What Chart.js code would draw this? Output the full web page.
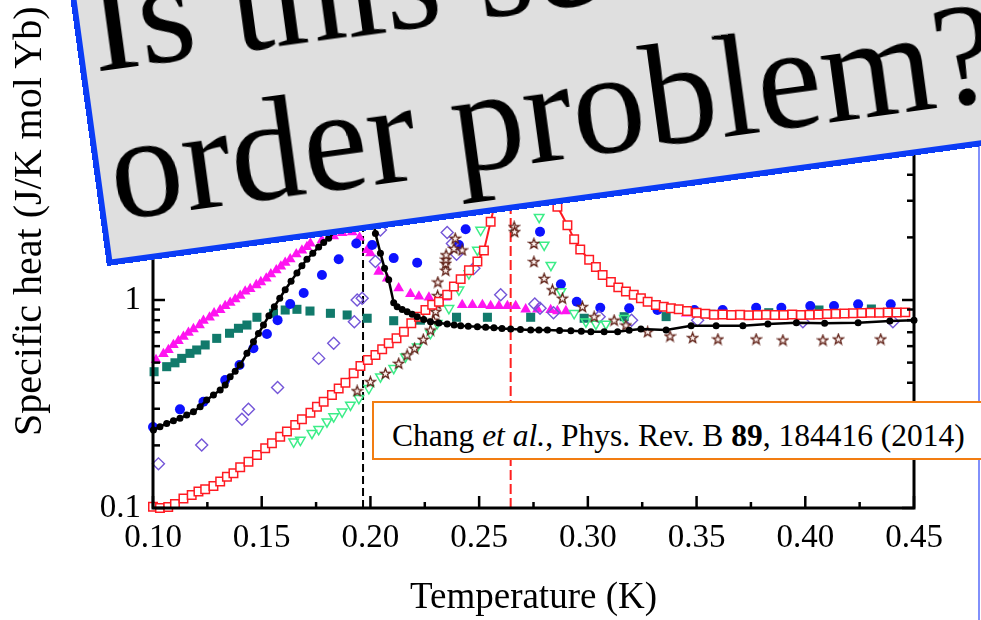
<!DOCTYPE html>
<html>
<head>
<meta charset="utf-8">
<title>Specific heat versus temperature</title>
<script src="https://cdn.jsdelivr.net/npm/chart.js@4.4.1/dist/chart.umd.min.js"></script>
<style>
  html, body { margin: 0; padding: 0; }
  body { width: 981px; height: 620px; overflow: hidden; background: #fff; position: relative;
         font-family: 'Liberation Serif', 'Times New Roman', serif; }
  #c { position: absolute; left: 0; top: 0; }
  #ytitle { position: absolute; left: 8px; top: 436px; transform-origin: 0 0; transform: rotate(-90deg);
            font-size: 40px; line-height: 40px; white-space: nowrap; color: #000; }
  #edge { position: absolute; left: 978px; top: 0; width: 2px; height: 620px; background: #8190fb; }
  #cite { position: absolute; left: 372px; top: 401px; width: 620px; height: 59px; box-sizing: border-box;
          border: 2px solid #f27d12; background: #fff; padding: 17px 0 0 18px;
          font-size: 31.5px; line-height: 31px; white-space: nowrap; color: #000; }
  #banner { position: absolute; left: 107px; top: -134px; width: 1100px; height: 400px; box-sizing: border-box;
            border: 6px solid #0b3cf6; background: #dfdfdf; transform-origin: 0 100%; transform: rotate(-7.8deg); }
  #banner .txt { position: absolute; left: 9px; bottom: 12px; font-size: 146px; line-height: 150px;
                 white-space: nowrap; color: #000; }
</style>
</head>
<body>
<canvas id="c" width="981" height="620"></canvas>
<div id="ytitle">Specific heat (J/K mol Yb)</div>
<div id="edge"></div>
<div id="cite">Chang <i>et al.</i>, Phys. Rev. B <b>89</b>, 184416 (2014)</div>
<div id="banner"><div class="txt">Is this second<br>order problem?</div></div>

<script>
// ---- axis ticks ----
const xTickValues = [0.10, 0.15, 0.20, 0.25, 0.30, 0.35, 0.40, 0.45];
const xTickLabels = ['0.10', '0.15', '0.20', '0.25', '0.30', '0.35', '0.40', '0.45'];
const xMinorTicks = [0.125, 0.175, 0.225, 0.275, 0.325, 0.375, 0.425];
const yTickValues = [0.1, 1, 10];
const yTickLabels = ['0.1', '1', '10'];
const yMinorTicks = [0.2, 0.3, 0.4, 0.5, 0.6, 0.7, 0.8, 0.9, 2, 3, 4, 5, 6, 7, 8, 9];

// ---- transition markers (K) ----
const tcBlack = 0.1966;
const tcRed = 0.2645;

// ---- black filled circles with line ----
const blackT = [0.1002,0.1032,0.1063,0.1094,0.1124,0.1155,0.1186,0.1217,0.1247,0.1278,0.1309,0.1332,0.1355,0.1378,0.1401,0.1432,0.1462,0.1485,0.1508,0.1533,0.1558,0.1583,0.1608,0.1635,0.1662,0.1685,0.1708,0.1735,0.1762,0.1785,0.1808,0.1840,0.1870,0.1900,0.1930,0.1955,0.1966,0.1980,0.2000,0.2023,0.2046,0.2065,0.2084,0.2107,0.2123,0.2146,0.2169,0.2192,0.2215,0.2245,0.2276,0.2315,0.2353,0.2385,0.2415,0.2450,0.2492,0.2530,0.2568,0.2605,0.2645,0.2690,0.2737,0.2775,0.2814,0.2870,0.2922,0.2970,0.3014,0.3075,0.3137,0.3190,0.3244,0.3360,0.3475,0.3590,0.3713,0.3828,0.3959,0.4089,0.4243,0.4389,0.4500];
const blackC = [0.237,0.246,0.255,0.263,0.270,0.280,0.290,0.307,0.331,0.349,0.369,0.390,0.428,0.455,0.487,0.554,0.630,0.690,0.758,0.840,0.929,1.02,1.12,1.23,1.35,1.46,1.57,1.68,1.80,1.89,1.98,2.15,2.35,2.65,3.2,4.0,4.6,3.9,2.9,2.09,1.68,1.42,1.25,0.97,0.929,0.900,0.879,0.855,0.831,0.805,0.787,0.775,0.767,0.758,0.752,0.748,0.744,0.740,0.736,0.730,0.726,0.722,0.717,0.717,0.717,0.714,0.712,0.708,0.704,0.704,0.704,0.715,0.726,0.717,0.752,0.752,0.752,0.767,0.778,0.773,0.778,0.792,0.800];

// ---- red open squares with line ----
const redT = [0.1000,0.1032,0.1070,0.1101,0.1140,0.1178,0.1209,0.1240,0.1278,0.1309,0.1340,0.1370,0.1401,0.1439,0.1478,0.1516,0.1547,0.1585,0.1616,0.1654,0.1685,0.1724,0.1754,0.1785,0.1823,0.1854,0.1885,0.1923,0.1954,0.1988,0.2023,0.2054,0.2084,0.2120,0.2154,0.2188,0.2223,0.2253,0.2284,0.2315,0.2353,0.2384,0.2415,0.2453,0.2492,0.2522,0.2553,0.2585,0.2615,0.2640,0.2660,0.2685,0.2715,0.2750,0.2790,0.2825,0.2860,0.2906,0.2937,0.2965,0.3006,0.3037,0.3068,0.3106,0.3140,0.3175,0.3211,0.3244,0.3275,0.3313,0.3349,0.3382,0.3418,0.3456,0.3500,0.3540,0.3580,0.3620,0.3660,0.3700,0.3740,0.3780,0.3820,0.3860,0.3900,0.3940,0.3980,0.4020,0.4060,0.4100,0.4140,0.4180,0.4220,0.4260,0.4300,0.4340,0.4380,0.4420,0.4460];
const redC = [0.1015,0.100,0.101,0.1045,0.111,0.1155,0.120,0.123,0.1276,0.134,0.1415,0.147,0.157,0.167,0.180,0.194,0.205,0.220,0.233,0.251,0.267,0.287,0.307,0.324,0.349,0.375,0.400,0.445,0.482,0.515,0.544,0.580,0.619,0.654,0.704,0.773,0.831,0.895,0.950,0.980,1.06,1.16,1.26,1.39,1.53,1.73,2.38,3.3,4.8,7.0,7.6,6.0,4.8,4.0,3.5,3.1,2.81,2.29,1.96,1.75,1.56,1.44,1.32,1.22,1.15,1.10,1.06,1.02,0.980,0.946,0.929,0.912,0.902,0.885,0.869,0.858,0.850,0.852,0.847,0.849,0.845,0.848,0.850,0.846,0.848,0.851,0.847,0.849,0.852,0.856,0.858,0.862,0.864,0.866,0.868,0.869,0.871,0.870,0.872];

// ---- brown open stars ----
const starT = [0.1939,0.2000,0.2069,0.2130,0.2169,0.2203,0.2243,0.2276,0.2290,0.2300,0.2307,0.2309,0.2310,0.2346,0.2346,0.2347,0.2348,0.2384,0.2390,0.2422,0.2450,0.2520,0.2580,0.2620,0.2661,0.2663,0.2752,0.2752,0.2799,0.2837,0.2883,0.2975,0.3029,0.3121,0.3175,0.3275,0.3378,0.3482,0.3598,0.3774,0.3897,0.4081,0.4152,0.4347];
const starC = [0.366,0.405,0.444,0.496,0.544,0.586,0.647,0.717,0.80,0.88,0.96,1.05,1.22,1.39,1.50,1.57,1.65,1.77,1.98,1.74,2.9,3.3,3.6,3.0,2.25,2.13,1.87,1.53,1.27,1.12,1.02,0.929,0.831,0.80,0.758,0.704,0.671,0.659,0.649,0.649,0.642,0.642,0.649,0.649];

// ---- green open down-triangles ----
const greenT = [0.1647,0.1678,0.1731,0.1762,0.1800,0.1831,0.1870,0.1908,0.1947,0.1993,0.2046,0.2107,0.2161,0.2215,0.2276,0.2307,0.2361,0.2407,0.2453,0.2492,0.2507,0.2560,0.2620,0.2680,0.2730,0.2776,0.2799,0.2830,0.2876,0.2937,0.2991,0.3037,0.3083,0.3168];
const greenC = [0.208,0.212,0.229,0.239,0.260,0.275,0.290,0.313,0.337,0.376,0.428,0.470,0.534,0.596,0.692,0.773,0.912,1.12,1.34,1.74,2.17,3.0,3.8,3.6,3.0,2.50,1.84,1.47,1.10,0.863,0.787,0.767,0.767,0.817];

// ---- purple open diamonds ----
const purpleT = [0.1025,0.1224,0.1409,0.1439,0.1573,0.1762,0.1831,0.1926,0.1939,0.1962,0.2023,0.2046,0.2110,0.2200,0.2280,0.2353,0.2377,0.2396,0.2476,0.2599,0.2756,0.2780,0.2842,0.3052,0.3201,0.3505,0.3989,0.4403];
const purpleC = [0.163,0.201,0.267,0.298,0.380,0.524,0.619,0.787,1.00,1.02,1.53,2.17,3.0,3.6,2.8,2.11,1.87,1.66,1.42,1.06,0.957,0.912,0.869,0.831,0.800,0.800,0.787,0.787];

// ---- blue filled circles ----
const blueT = [0.1000,0.1124,0.1232,0.1332,0.1398,0.1462,0.1524,0.1573,0.1631,0.1693,0.1777,0.1854,0.1935,0.2008,0.2107,0.2215,0.2407,0.2438,0.2500,0.2560,0.2620,0.2680,0.2730,0.2780,0.2876,0.2949,0.3057,0.3190,0.3320,0.3490,0.3620,0.3774,0.3890,0.4023,0.4132,0.4243,0.4393];
const blueC = [0.245,0.298,0.324,0.412,0.487,0.586,0.687,0.800,0.957,1.08,1.32,1.57,1.87,1.84,1.59,1.51,1.84,2.19,2.7,3.0,3.2,3.2,3.0,2.13,1.19,0.980,0.918,0.912,0.895,0.895,0.895,0.918,0.918,0.936,0.936,0.953,0.953];

// ---- teal filled squares ----
const tealT = [0.1005,0.1063,0.1101,0.1132,0.1170,0.1201,0.1240,0.1293,0.1352,0.1393,0.1432,0.1478,0.1554,0.1608,0.1662,0.1722,0.1816,0.1893,0.1985,0.2107,0.2230,0.2396,0.2538,0.2737,0.2983,0.3167,0.3360,0.3567,0.3832,0.4063,0.4304];
const tealC = [0.452,0.478,0.499,0.524,0.554,0.575,0.608,0.654,0.692,0.731,0.758,0.826,0.863,0.895,0.902,0.885,0.863,0.847,0.817,0.795,0.800,0.826,0.826,0.826,0.817,0.831,0.832,0.854,0.869,0.895,0.905];

// ---- magenta filled triangles ----
const magentaT = [0.1014,0.1048,0.1071,0.1094,0.1117,0.1140,0.1163,0.1186,0.1214,0.1232,0.1260,0.1281,0.1309,0.1332,0.1355,0.1378,0.1401,0.1424,0.1447,0.1475,0.1496,0.1521,0.1542,0.1567,0.1588,0.1608,0.1631,0.1659,0.1685,0.1708,0.1724,0.1777,0.1831,0.1870,0.1916,0.1950,0.1985,0.2000,0.2038,0.2077,0.2130,0.2184,0.2223,0.2269,0.2346,0.2422,0.2469,0.2515,0.2553,0.2591,0.2630,0.2668,0.2714,0.2768,0.2829,0.2860,0.2899,0.3452];
const magentaC = [0.515,0.550,0.575,0.608,0.635,0.666,0.697,0.725,0.758,0.795,0.825,0.863,0.895,0.936,0.970,1.01,1.05,1.10,1.13,1.18,1.22,1.27,1.33,1.39,1.45,1.51,1.57,1.66,1.73,1.80,1.87,1.94,2.03,2.10,2.12,2.00,1.74,1.68,1.37,1.27,1.14,1.07,1.04,1.03,1.03,0.946,0.946,0.946,0.936,0.936,0.936,0.936,0.902,0.902,0.895,0.885,0.885,0.863];

const pts = (xs, ys) => xs.map((t, i) => ({ x: t, y: ys[i] }));

// Open five-pointed star marker
function starMarker() {
  const c = document.createElement('canvas');
  c.width = 13; c.height = 13;
  const g = c.getContext('2d');
  g.beginPath();
  for (let i = 0; i < 10; i++) {
    const r = i % 2 ? 2.2 : 5.3;
    const a = -Math.PI / 2 + i * Math.PI / 5;
    g.lineTo(6.5 + r * Math.cos(a), 6.9 + r * Math.sin(a));
  }
  g.closePath();
  g.fillStyle = '#fdf1ee';
  g.fill();
  g.strokeStyle = '#5e1e14';
  g.lineWidth = 1.3;
  g.stroke();
  return c;
}

// Box frame with inward-pointing major and minor ticks on all four sides
const frameTicks = {
  id: 'frameTicks',
  afterDatasetsDraw(chart) {
    const { ctx, chartArea: a, scales: { x, y } } = chart;
    ctx.save();
    ctx.strokeStyle = '#000';
    const seg = (x1, y1, x2, y2) => { ctx.beginPath(); ctx.moveTo(x1, y1); ctx.lineTo(x2, y2); ctx.stroke(); };
    ctx.lineWidth = 2.5;
    xTickValues.forEach(v => { const p = x.getPixelForValue(v); seg(p, a.bottom, p, a.bottom - 12); seg(p, a.top, p, a.top + 12); });
    xMinorTicks.forEach(v => { const p = x.getPixelForValue(v); seg(p, a.bottom, p, a.bottom - 6); seg(p, a.top, p, a.top + 6); });
    yTickValues.forEach(v => { const p = y.getPixelForValue(v); seg(a.left, p, a.left + 12, p); seg(a.right, p, a.right - 12, p); });
    yMinorTicks.forEach(v => { const p = y.getPixelForValue(v); seg(a.left, p, a.left + 7, p); seg(a.right, p, a.right - 7, p); });
    ctx.lineWidth = 3;
    ctx.strokeRect(a.left, a.top, a.right - a.left, a.bottom - a.top);
    ctx.restore();
  }
};

Chart.defaults.font.family = "'Liberation Serif', 'Times New Roman', serif";
Chart.defaults.color = '#000';

new Chart(document.getElementById('c'), {
  type: 'scatter',
  data: {
    datasets: [
      { data: pts(blackT, blackC), showLine: true, borderColor: '#000', borderWidth: 2.5,
        pointStyle: 'circle', pointRadius: 3.5, pointBackgroundColor: '#000', pointBorderWidth: 0, order: 1 },
      { data: pts(redT, redC), showLine: true, borderColor: '#ff1a22', borderWidth: 2,
        pointStyle: 'rect', pointRadius: 6, pointBackgroundColor: '#fff', pointBorderColor: '#ff1a22', pointBorderWidth: 1.5, order: 2 },
      { data: pts(starT, starC), showLine: false, pointStyle: starMarker(), pointRadius: 6, order: 3 },
      { data: pts(greenT, greenC), showLine: false, pointStyle: 'triangle', pointRotation: 180, pointRadius: 5.5,
        pointBackgroundColor: 'rgba(255,255,255,0)', pointBorderColor: '#3ced88', pointBorderWidth: 1.5, order: 4 },
      { data: pts(purpleT, purpleC), showLine: false, pointStyle: 'rectRot', pointRadius: 6,
        pointBackgroundColor: 'rgba(255,255,255,0)', pointBorderColor: '#7456d8', pointBorderWidth: 1.4, order: 5 },
      { data: pts(blueT, blueC), showLine: false, pointStyle: 'circle', pointRadius: 5,
        pointBackgroundColor: '#0d12ff', pointBorderColor: '#0d12ff', pointBorderWidth: 0, order: 6 },
      { data: pts(tealT, tealC), showLine: false, pointStyle: 'rect', pointRadius: 6.4,
        pointBackgroundColor: '#117a6b', pointBorderWidth: 0, order: 7 },
      { data: pts(magentaT, magentaC), showLine: false, pointStyle: 'triangle', pointRadius: 6.2,
        pointBackgroundColor: '#ff14f0', pointBorderWidth: 0, order: 8 },
      { data: [{ x: tcBlack, y: 0.1 }, { x: tcBlack, y: 10 }], showLine: true, borderColor: '#000', borderWidth: 2,
        borderDash: [8, 4], pointRadius: 0, order: 9 },
      { data: [{ x: tcRed, y: 0.1 }, { x: tcRed, y: 10 }], showLine: true, borderColor: '#ff2020', borderWidth: 2,
        borderDash: [10, 4], pointRadius: 0, order: 10 }
    ]
  },
  options: {
    responsive: false,
    animation: false,
    devicePixelRatio: 1,
    layout: { padding: { top: 92, right: 67, bottom: 0, left: 0 } },
    elements: { line: { tension: 0 } },
    datasets: { scatter: { clip: false } },
    plugins: { legend: { display: false }, tooltip: { enabled: false } },
    scales: {
      x: {
        type: 'linear', min: 0.10, max: 0.45,
        afterBuildTicks: s => { s.ticks = xTickValues.map(v => ({ value: v })); },
        afterFit: s => { s.height = 112; },
        grid: { display: false, drawTicks: false },
        border: { display: false },
        ticks: { autoSkip: false, maxRotation: 0, padding: 11, font: { size: 33 },
                 callback: (v, i) => xTickLabels[i] },
        title: { display: true, text: 'Temperature (K)', font: { size: 37 }, padding: { top: 0, bottom: 0 } }
      },
      y: {
        type: 'logarithmic', min: 0.1, max: 10,
        afterBuildTicks: s => { s.ticks = yTickValues.map(v => ({ value: v })); },
        afterFit: s => { s.width = 153; },
        grid: { display: false, drawTicks: false },
        border: { display: false },
        ticks: { autoSkip: false, padding: 12, font: { size: 33 },
                 callback: (v, i) => yTickLabels[i] }
      }
    }
  },
  plugins: [frameTicks]
});
</script>
</body>
</html>
